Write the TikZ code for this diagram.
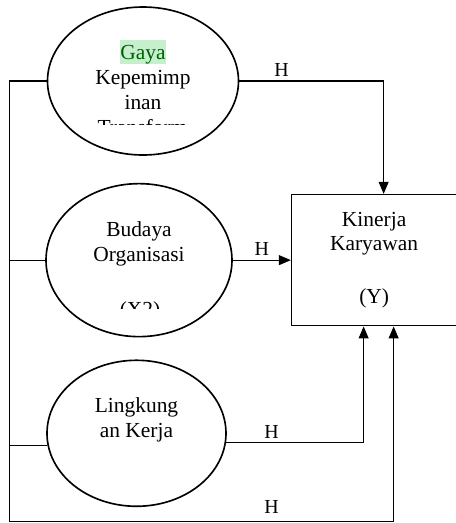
\documentclass[tikz,border=0pt]{standalone}
\usepackage{fontspec}
\setmainfont{Liberation Serif}
\usetikzlibrary{positioning, shapes, arrows.meta, calc}
\definecolor{goodfill}{RGB}{198,239,206}
\definecolor{goodtext}{RGB}{0,97,0}

\begin{document}
\begin{tikzpicture}[
   every node/.style       = {font=\fontsize{18.3pt}{21.3pt}\selectfont},
    node distance            = 0.8cm and 1.74cm,
         varNode/.style    = {ellipse, draw, line width=1.4pt, inner sep=0pt},
         resultNode/.style = {rectangle, draw, line width=1.4pt, align=center, minimum width=4.95cm, minimum height=3.93cm},
         varText/.style    = {align=center, inner sep=0pt},
         hLabel/.style     = {font=\fontsize{17pt}{20pt}\selectfont},
         myline/.style     = {line width=0.9pt},
         myarrow/.style    = {myline, -{Triangle[width=0.3cm, length=0.36cm]}}
]
    \useasboundingbox (0,0) rectangle (13.68,-15.69);

    \node[varNode, minimum width=5.73cm, minimum height=4.44cm] (gaya) at (4.29,-2.43) {};
    \node[varNode, minimum width=5.58cm, minimum height=4.59cm, below=0.81cm of gaya, xshift=-0.12cm] (budaya) {};
    \node[varNode, minimum width=5.37cm, minimum height=4.38cm, below=0.66cm of budaya, xshift=-0.075cm] (lingkungan) {};

    \node[resultNode, right=of budaya] (kinerja) {Kinerja\\Karyawan\\[0.84cm](Y)};

    % teks di dalam elips
    \node[varText] (gayaText) at ([yshift=0.19cm]gaya.center)
        {{\setlength{\fboxsep}{0pt}\colorbox{goodfill}{\color{goodtext}\rule[-0.22em]{0pt}{1.12em}\kern0.04em Gaya\kern0.04em}}\\Kepemimp\\inan};
    \node[varText] (budayaText) at ([yshift=0.48cm]budaya.center) {Budaya\\Organisasi};
    \node[varText] (lingkunganText) at ([yshift=0.41cm]lingkungan.center) {Lingkung\\an Kerja};

    % baris yang terpotong
    \begin{scope}
        \clip ([xshift=-1.8cm, yshift=-1.02cm]gaya.center) rectangle ([xshift=1.8cm, yshift=-1.3cm]gaya.center);
        \node[varText, anchor=base] (gayaCut) at ([xshift=-0.015cm, yshift=-1.611cm]gaya.center) {Transform};
    \end{scope}
    \begin{scope}
        \clip ([xshift=-1.8cm, yshift=-1.1cm]budaya.center) rectangle ([xshift=1.8cm, yshift=-1.44cm]budaya.center);
        \node[varText, anchor=base] (budayaCut) at ([xshift=0.03cm, yshift=-1.68cm]budaya.center) {(X2)};
    \end{scope}

    \coordinate (bus) at (0.285,-15.65);

    \draw[myarrow] (gaya.east) -| node[hLabel, pos=0.146, above] (h1) {H} ([xshift=0.285cm]kinerja.north);
    \draw[myarrow] (budaya) -- node[hLabel, above] (h2) {H} (kinerja);
    \draw[myarrow] (lingkungan.-6) -| node[hLabel, pos=0.165, above] (h3) {H} ([xshift=-0.315cm]kinerja.south);
    \draw[myarrow] (gaya.west) -| (bus) -| node[hLabel, pos=0.341, above=0.1cm] (h4) {H} ([xshift=0.585cm]kinerja.south);

    \draw[myline] (budaya.west) -- (budaya.west -| bus);
    \draw[myline] (lingkungan.188) -- (lingkungan.188 -| bus);
\end{tikzpicture}
\end{document}
